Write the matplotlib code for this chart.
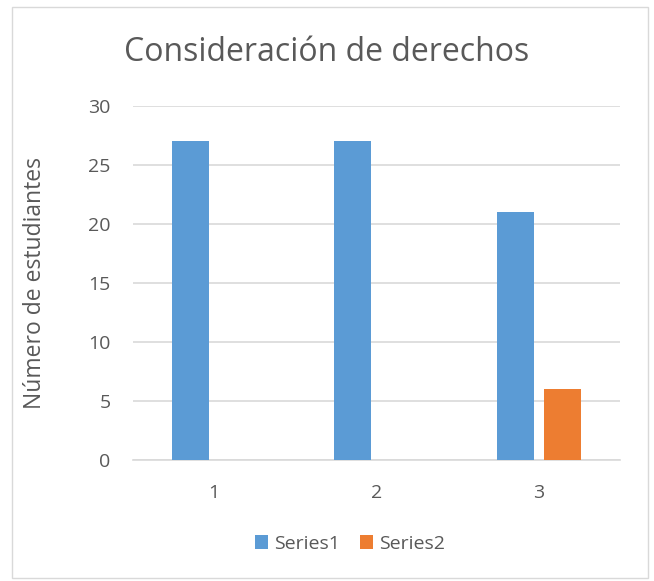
import numpy as np
import matplotlib
matplotlib.use("Agg")
from matplotlib import pyplot as plt
from matplotlib.patches import Rectangle

#data
categories = ["1", "2", "3"]
series1 = [27, 27, 21]
series2 = [0, 0, 6]
series_names = ["Series1", "Series2"]
yticks = [0, 5, 10, 15, 20, 25, 30]

plt.rcParams['font.family'] = ['Open Sans', 'DejaVu Sans']
txt = '#595959'

fig = plt.figure(figsize=(6.54, 5.81), dpi=100)
ax = fig.add_axes([0.203, 0.208, 0.745, 0.610])

x = np.arange(len(categories))
w = 0.228
ax.bar(x - 0.145, series1, w, color='#5b9bd5', label=series_names[0], zorder=3)
ax.bar(x + 0.145, series2, w, color='#ed7d31', label=series_names[1], zorder=3)

ax.set_xlim(-0.5, 2.5)
ax.set_ylim(0, 30)
ax.set_yticks(yticks)
ax.set_xticks(x)
ax.set_xticklabels(categories)
ax.yaxis.grid(True, color='#d9d9d9', linewidth=1.2, zorder=0)
for s in ['top', 'right', 'left']:
    ax.spines[s].set_visible(False)
ax.spines['bottom'].set_color('#d9d9d9')
ax.spines['bottom'].set_linewidth(1.2)
ax.tick_params(axis='both', length=0, labelsize=14, colors=txt)
ax.tick_params(axis='y', pad=16)
ax.tick_params(axis='x', pad=17)
ax.set_ylabel("Número de estudiantes", fontsize=16.5, color=txt)
ax.yaxis.set_label_coords(-0.175, 0.5)

fig.text(0.5, 0.91, "Consideración de derechos", ha='center', va='center',
         fontsize=23, color=txt)

leg = fig.legend(loc='center', bbox_to_anchor=(0.535, 0.064), ncol=2, frameon=False,
                 fontsize=14, handlelength=0.7, handleheight=0.7, columnspacing=1.0,
                 handletextpad=0.3)
for t in leg.get_texts():
    t.set_color(txt)

#chart border
fig.patches.append(Rectangle((0.018, 0.005), 0.973, 0.983, transform=fig.transFigure,
                             fill=False, edgecolor='#d9d9d9', linewidth=1))

fig.savefig("out.png", dpi=100)
